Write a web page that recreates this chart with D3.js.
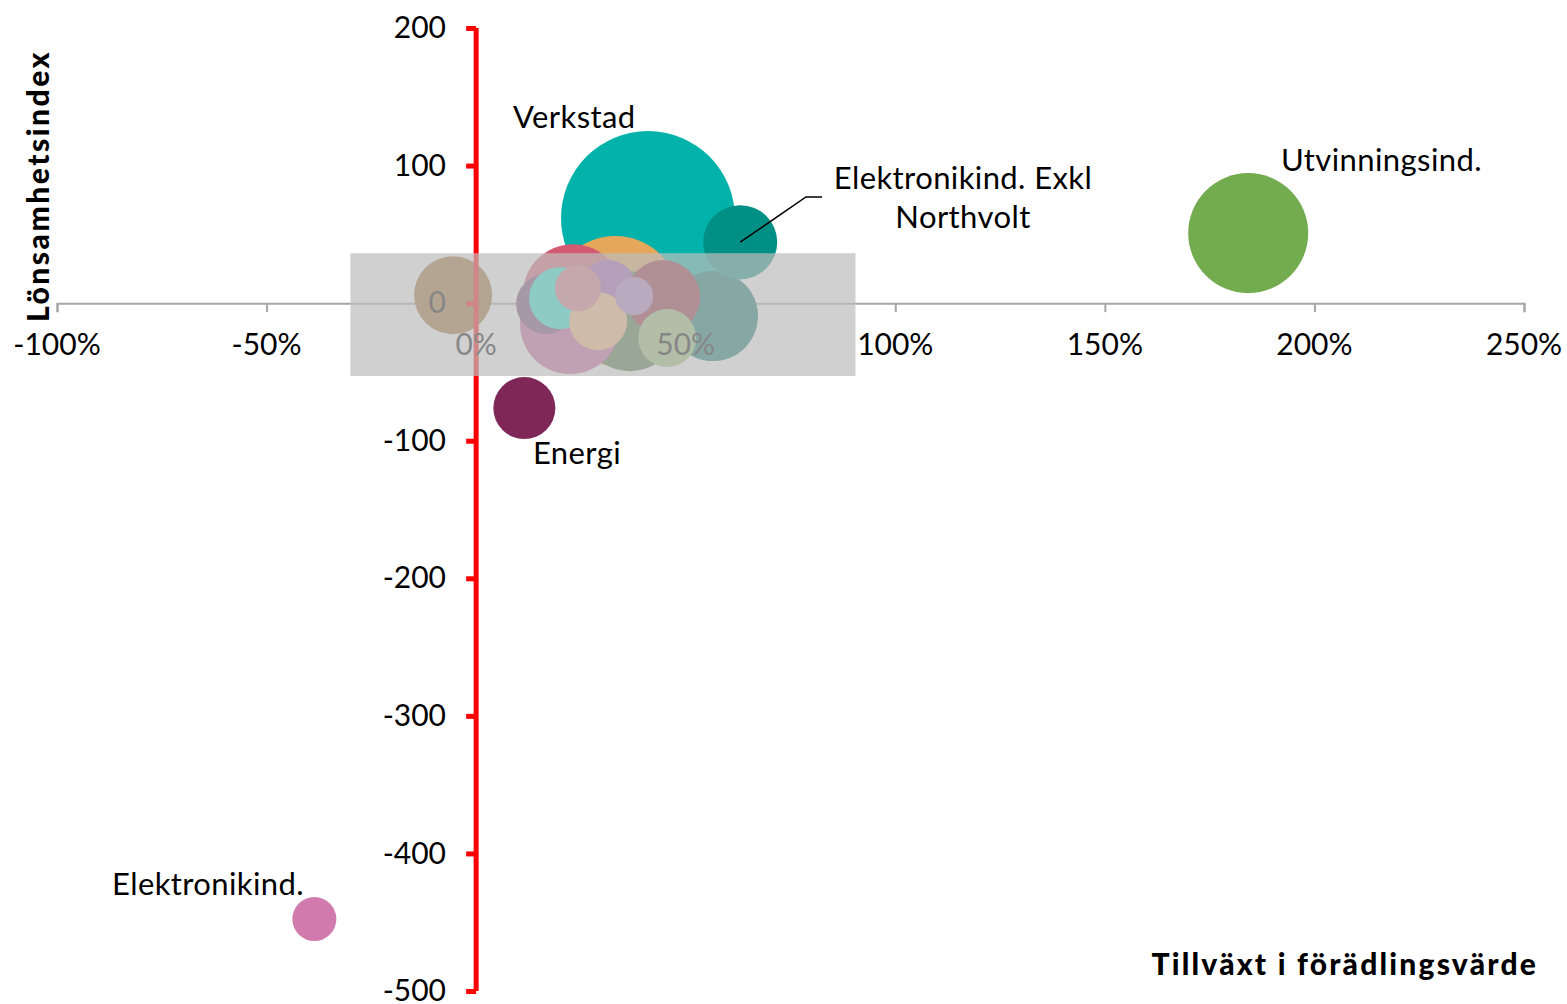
<!DOCTYPE html>
<html><head><meta charset="utf-8">
<script src="https://cdn.jsdelivr.net/npm/d3@7"></script>
<style>
html,body{margin:0;padding:0;background:#fff;}
svg{display:block;font-family:Lato,"Noto Sans",sans-serif;}
</style></head>
<body>
<svg id="chart" width="1567" height="1004"></svg>
<script>
// ---- data ----
const sectors = ["Verkstad","Bransch B","Bransch C","Bransch D","Bransch E","Bransch F","Bransch G","Bransch H","Bransch I","Bransch J","Bransch K","Bransch L","Bransch M","Bransch N","Elektronikind. Exkl Northvolt","Bransch O","Utvinningsind.","Energi","Elektronikind."];
const growthPct = [41.0, 33.2, 56.5, 36.7, 23.1, 22.4, 16.7, 20.0, 31.5, 44.6, 29.1, 24.3, 37.7, 45.6, 63.0, -5.5, 184.2, 11.5, -38.6];
const profitIndex = [61.8, 1.5, -9.4, -13.1, 6.5, -15.3, -0.7, 3.6, 10.9, 4.4, -13.1, 10.9, 5.1, -25.4, 44.3, 5.8, 50.9, -76.3, -447.7];
const bubbleSize = [100, 55.8, 26.8, 33, 33, 33, 11.9, 12.7, 10.4, 18.1, 11.1, 7, 4.8, 11.1, 18.1, 20.1, 47.6, 12.7, 6.4];
const colors = ["#00b2a9","#e5a75a","#037267","#456e37","#d45a73","#c95a9c","#723e75","#20ecd8","#9f5ab7","#912234","#f8b779","#d67583","#b07cc5","#98c175","#008f84","#a0682a","#73ab4f","#7f2858","#d17aad"];
const xTicks = [-100,-50,0,50,100,150,200,250];
const yTicks = [200,100,0,-100,-200,-300,-400,-500];
const highlightX = [-30, 90.5];
const highlightY = [-53, 36.3];

// ---- scales ----
const svg = d3.select("#chart");
const x = d3.scaleLinear().domain([-100,250]).range([57,1524]);
const y = d3.scaleLinear().domain([-500,200]).range([991,28]);
const r = d3.scaleSqrt().domain([0,100]).range([0,87]);
const FS = 30, LFS = 31;

// x axis (gray) at y=0
const xAxis = d3.axisBottom(x).tickValues(xTicks).tickSize(9).tickFormat(d => d + "%");
const gx = svg.append("g").attr("transform", `translate(0,${y(0)})`).call(xAxis);
gx.select(".domain").attr("stroke","#a6a6a6").attr("stroke-width",2);
gx.selectAll(".tick line").attr("stroke","#a6a6a6").attr("stroke-width",2);
gx.selectAll(".tick text").remove();

// bubbles
const data = sectors.map((s,i)=>({s, gx:growthPct[i], py:profitIndex[i], sz:bubbleSize[i], c:colors[i]}));
svg.append("g").selectAll("circle").data(data).join("circle")
  .attr("cx", d=>x(d.gx)).attr("cy", d=>y(d.py)).attr("r", d=>r(d.sz))
  .attr("fill", d=>d.c);

// y axis (red) at x=0
const yAxis = d3.axisLeft(y).tickValues(yTicks).tickSize(10).tickFormat(d=>d);
const gy = svg.append("g").attr("transform", `translate(${x(0)},0)`).call(yAxis);
gy.select(".domain").attr("stroke","#ff0000").attr("stroke-width",5).attr("d", `M0,${y(200)}V${y(-500)}`);
gy.selectAll(".tick line").attr("stroke","#ff0000").attr("stroke-width",5);
gy.selectAll(".tick text").remove();

// tick labels
svg.append("g").selectAll("text").data(yTicks).join("text")
  .attr("x", 446).attr("y", d=>y(d)).attr("dy","0.34em")
  .attr("text-anchor","end").attr("font-size",FS).attr("fill","#000").text(d=>d);
svg.append("g").selectAll("text").data(xTicks).join("text")
  .attr("x", d=>x(d)).attr("y", 355)
  .attr("text-anchor","middle").attr("font-size",FS).attr("fill","#000").text(d=>d+"%");

// highlight overlay
svg.append("rect")
  .attr("x", x(highlightX[0])).attr("y", y(highlightY[1]))
  .attr("width", x(highlightX[1]) - x(highlightX[0]))
  .attr("height", y(highlightY[0]) - y(highlightY[1]))
  .attr("fill","#bdbdbd").attr("fill-opacity",0.71);

// data labels
const lbl = svg.append("g").attr("font-size",LFS).attr("fill","#000").attr("letter-spacing",0.4);
const byName = n => data.find(d=>d.s===n);
lbl.append("text").attr("x",513).attr("y",128).text("Verkstad");
lbl.append("text").attr("x",1281).attr("y",171).text("Utvinningsind.");
lbl.append("text").attr("x",533).attr("y",464).text("Energi");
lbl.append("text").attr("x",112).attr("y",895).text("Elektronikind.");
const ex = byName("Elektronikind. Exkl Northvolt");
const t = lbl.append("text").attr("text-anchor","middle");
t.append("tspan").attr("x",963).attr("y",189).text("Elektronikind. Exkl");
t.append("tspan").attr("x",963).attr("y",228).text("Northvolt");
svg.append("path")
  .attr("d", `M${x(ex.gx)},${y(ex.py)}L806,197H822`)
  .attr("fill","none").attr("stroke","#000").attr("stroke-width",1.5);

// axis titles
svg.append("text").attr("transform","translate(49,186) rotate(-90)")
  .attr("text-anchor","middle").attr("font-size",30).attr("font-weight",900)
  .attr("letter-spacing",2.5).text("Lönsamhetsindex");
svg.append("text").attr("x",1538).attr("y",975).attr("text-anchor","end")
  .attr("font-size",30).attr("font-weight",900).attr("letter-spacing",2.2)
  .text("Tillväxt i förädlingsvärde");
</script>
</body></html>
